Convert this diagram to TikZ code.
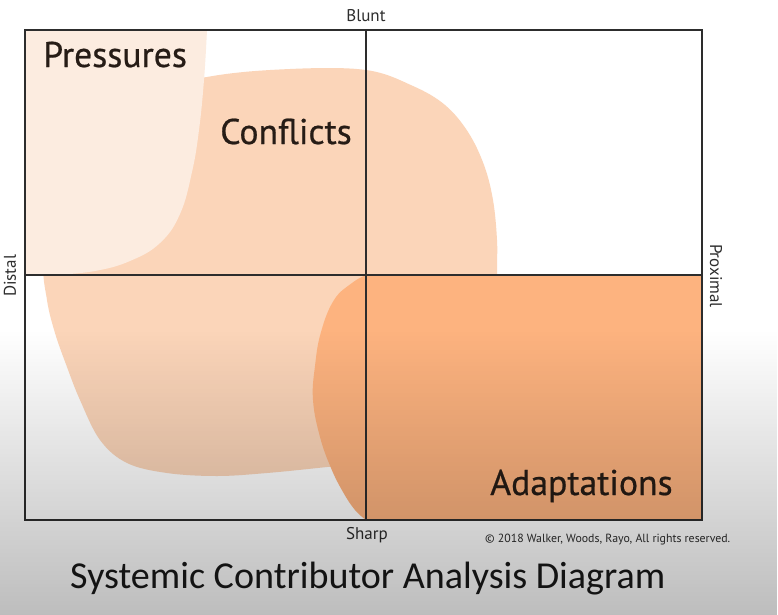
\documentclass[tikz,border=0pt]{standalone}
\usepackage{fontspec}
\setmainfont{PT Sans}
\newfontfamily\zonefont{PT Sans}[FakeBold=0.6]
\newfontfamily\titlefont{Carlito}
\usepackage{xcolor}
\usepackage{tikz}
\usetikzlibrary{positioning, fadings}
\definecolor{pressurepeach}{RGB}{252,236,224}
\definecolor{conflictpeach}{RGB}{251,213,185}
\definecolor{adaptorange}{RGB}{253,179,127}
\definecolor{framegrey}{RGB}{45,45,45}
\definecolor{inkdark}{RGB}{38,28,22}
\tikzfading[name=fade down, top color=transparent!100, bottom color=transparent!0]

\begin{document}
\begin{tikzpicture}[
    x=0.03cm, y=-0.03cm,
    every node/.style={text=inkdark},
    axis lbl/.style={font=\fontsize{14.5}{16}\selectfont, text=framegrey, inner sep=0pt},
    zone lbl/.style={font=\zonefont\fontsize{30.5}{33}\selectfont, inner sep=0pt, anchor=base west},
    frame line/.style={draw=framegrey, line width=1.7pt},
  ]

  % ============ PAGE ============
  \useasboundingbox (0,0) rectangle (778,615);
  \fill[white] (0,0) rectangle (778,615);

  % ============ CONFLICTS BLOB (under pressures) ============
  \fill[conflictpeach] plot[smooth cycle, tension=0.6] coordinates {
    (60,200) (120,100) (207,77) (290,69) (366,70) (413,86) (445,105)
    (468,132) (484,165) (493,200) (497,240) (497,275) (497,380) (410,458)
    (327,467) (267,473) (217,476) (167,473) (127,463) (100,440) (80,400)
    (67,367) (55,333) (47,300) (44,260)};

  % ============ PRESSURES BLOB (top-left corner) ============
  \fill[pressurepeach] (25,30) -- (207,30)
    -- plot[smooth, tension=0.7] coordinates {
      (207,30) (204,80) (199,130) (192,172) (180,214) (160,243)
      (130,261) (95,271) (55,275)}
    -- (25,276) -- cycle;

  % ============ ADAPTATIONS BLOCK (bottom-right + bulge) ============
  \fill[adaptorange] (366,275) -- (702,275) -- (702,520) -- (366,520)
    -- plot[smooth, tension=0.7] coordinates {
      (366,520) (355,510) (343,492) (331,468) (320,437) (313,400)
      (315,366) (321,332) (334,300) (352,283) (366,275)}
    -- cycle;

  % ============ FRAME + QUADRANT LINES ============
  \coordinate (tl) at (25,30);
  \coordinate (br) at (702,520);
  \coordinate (midtop) at (366,30);
  \coordinate (midbot) at (366,520);
  \coordinate (midleft) at (25,275);
  \coordinate (midright) at (702,275);
  \draw[frame line] (tl) rectangle (br);
  \draw[frame line] (midtop) -- (midbot);
  \draw[frame line] (midleft) -- (midright);

  % ============ AXIS LABELS ============
  \node[axis lbl, anchor=base] (blunt) at (366,21) {Blunt};
  \node[axis lbl, anchor=base] (sharp) at (367,539) {Sharp};
  \node[axis lbl, rotate=90] (distal) at (10,276) {Distal};
  \node[axis lbl, rotate=-90] (proximal) at (716,276) {Proximal};

  % ============ ZONE LABELS ============
  \node[zone lbl] (pressures) at (43,67) {Pressures};
  \node[zone lbl] (conflicts) at (220,144) {Conflicts};
  \node[zone lbl] (adaptations) at (490,495) {Adaptations};

  % ============ FOOTER ============
  \node[anchor=base west, inner sep=0pt, font=\fontsize{10.1}{12}\selectfont, text=framegrey]
    (copyright) at (485,542) {© 2018 Walker, Woods, Rayo, All rights reserved.};
  \node[anchor=base west, inner sep=0pt, font=\titlefont\fontsize{32.5}{36}\selectfont, text=black!90]
    (title) at (70,588) {Systemic Contributor Analysis Diagram};

  % video-style grey wash at the bottom
  \fill[black, opacity=0.26, path fading=fade down] (0,330) rectangle (778,615);

\end{tikzpicture}
\end{document}
